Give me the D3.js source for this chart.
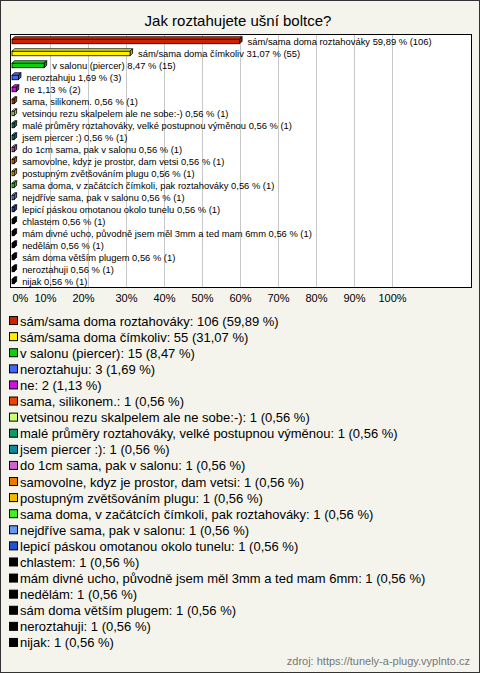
<!DOCTYPE html>
<html><head><meta charset="utf-8">
<script src="https://cdn.jsdelivr.net/npm/d3@7"></script>
<style>
html,body{margin:0;padding:0;background:#fff;}
svg{display:block;font-family:Arial,"Liberation Sans",sans-serif;}
</style></head>
<body><svg id="c" width="480" height="673"></svg>
<script>
const title = "Jak roztahujete ušní boltce?";
const categories = [
  "sám/sama doma roztahováky",
  "sám/sama doma čímkoliv",
  "v salonu (piercer)",
  "neroztahuju",
  "ne",
  "sama, silikonem.",
  "vetsinou rezu skalpelem ale ne sobe:-)",
  "malé průměry roztahováky, velké postupnou výměnou",
  "jsem piercer :)",
  "do 1cm sama, pak v salonu",
  "samovolne, kdyz je prostor, dam vetsi",
  "postupným zvětšováním plugu",
  "sama doma, v začátcích čímkoli, pak roztahováky",
  "nejdříve sama, pak v salonu",
  "lepicí páskou omotanou okolo tunelu",
  "chlastem",
  "mám divné ucho, původně jsem měl 3mm a ted mam 6mm",
  "nedělám",
  "sám doma větším plugem",
  "neroztahuji",
  "nijak"
];
const counts = [106,55,15,3,2,1,1,1,1,1,1,1,1,1,1,1,1,1,1,1,1];
const percents = [59.89,31.07,8.47,1.69,1.13,0.56,0.56,0.56,0.56,0.56,0.56,0.56,0.56,0.56,0.56,0.56,0.56,0.56,0.56,0.56,0.56];
const colors = ["#cc2200","#ffee00","#11cc11","#4466ff","#cc11dd","#ee4400","#ccff77","#119966","#118899","#cc66cc","#ee7700","#eebb00","#44ee22","#6699ee","#2255cc","#000000","#000000","#000000","#000000","#000000","#000000"];
const ticks = [0,10,20,30,40,50,60,70,80,90,100];
const source = "zdroj: https://tunely-a-plugy.vyplnto.cz";

const fmt = v => v.toFixed(2).replace(".", ",");
const svg = d3.select("#c");
const W = 480, H = 673;

svg.append("rect").attr("x",0.5).attr("y",0.5).attr("width",W-1).attr("height",H-1)
  .attr("fill","#f4f4ec").attr("stroke","#333").attr("stroke-width",1);

svg.append("text").attr("x",238).attr("y",26).attr("text-anchor","middle")
  .attr("font-size",15).attr("fill","#000").text(title);

const plot = {x0:10, x1:471, y0:34, y1:287};
svg.append("rect").attr("x",plot.x0+0.5).attr("y",plot.y0+0.5)
  .attr("width",plot.x1-plot.x0).attr("height",plot.y1-plot.y0)
  .attr("fill","#fff").attr("stroke","#000").attr("stroke-width",1);

const x = d3.scaleLinear().domain([0,100]).range([12,392]);
const y = d3.scaleBand().domain(categories).range([35,287]).padding(0);

// gridlines
svg.append("g").selectAll("line").data(ticks.filter(t=>t>0)).join("line")
  .attr("x1",d=>Math.round(x(d))+0.5).attr("x2",d=>Math.round(x(d))+0.5)
  .attr("y1",plot.y0+1).attr("y2",plot.y1)
  .attr("stroke","#c8c8c8").attr("stroke-width",1);

// x axis labels
const xAxis = d3.axisBottom(x).tickValues(ticks).tickSize(0).tickPadding(0).tickFormat(d=>d+"%");
const ax = svg.append("g").attr("transform","translate(0,294)").call(xAxis);
ax.select(".domain").remove();
ax.selectAll("text").attr("font-size",11).attr("fill","#000")
  .attr("font-family","Arial, 'Liberation Sans', sans-serif")
  .attr("text-anchor",(d)=> d===0 ? "start" : "middle")
  .attr("dx",(d)=> d===0 ? 0 : (d===10? -5 : d===20 ? -5 : 0));

// bars with 3D look
const depth = 2.5, bh = 4.5;
const bars = svg.append("g");
categories.forEach((c,i)=>{
  const cy = y(c) + y.bandwidth()/2;
  const xs = x(0), xe = x(percents[i]);
  const top = cy - bh/2 + 0.5, bot = cy + bh/2 + 0.5;
  const col = colors[i];
  const dark = d3.color(col).darker(0.8).toString();
  const light = d3.color(col).brighter(0.5).toString();
  bars.append("path")
    .attr("d",`M${xs},${top} L${xs+depth},${top-depth} L${xe+depth},${top-depth} L${xe},${top} Z`)
    .attr("fill",light).attr("stroke","#000").attr("stroke-width",0.8);
  bars.append("path")
    .attr("d",`M${xe},${top} L${xe+depth},${top-depth} L${xe+depth},${bot-depth} L${xe},${bot} Z`)
    .attr("fill",dark).attr("stroke","#000").attr("stroke-width",0.8);
  bars.append("rect").attr("x",xs).attr("y",top).attr("width",Math.max(xe-xs,0.5)).attr("height",bh)
    .attr("fill",col).attr("stroke","#000").attr("stroke-width",0.8);
  bars.append("text").attr("x",xe+8).attr("y",cy+3.5)
    .attr("font-size",9.4).attr("fill","#000")
    .text(`${c} ${fmt(percents[i])} % (${counts[i]})`);
});

// legend
const ly = d3.scaleBand().domain(categories).range([313,651]);
const leg = svg.append("g");
categories.forEach((c,i)=>{
  const cy = ly(c) + ly.bandwidth()/2;
  leg.append("rect").attr("x",9.5).attr("y",cy-4.5).attr("width",8).attr("height",8)
    .attr("fill",colors[i]).attr("stroke","#000").attr("stroke-width",1);
  leg.append("text").attr("x",20).attr("y",cy+4.5).attr("font-size",13).attr("fill","#000")
    .text(`${c}: ${counts[i]} (${fmt(percents[i])} %)`);
});

svg.append("text").attr("x",470).attr("y",665).attr("text-anchor","end")
  .attr("font-size",11).attr("fill","#777").text(source);
</script></body></html>
